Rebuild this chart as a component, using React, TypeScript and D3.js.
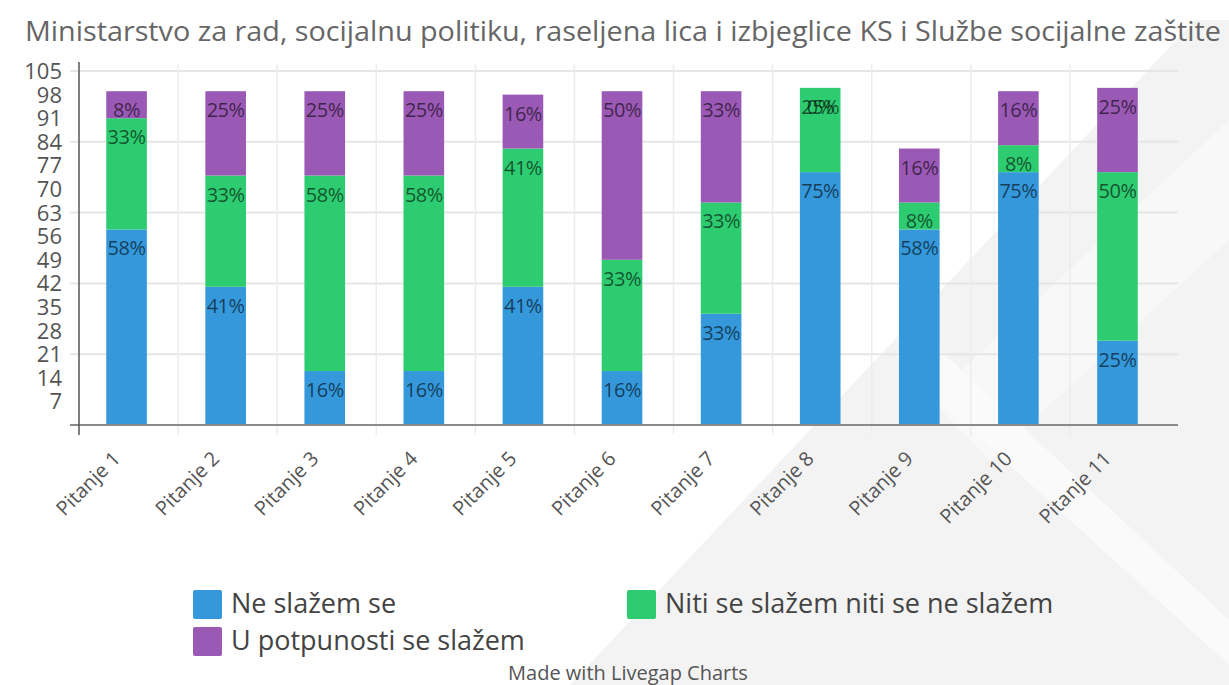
import React, { useEffect, useRef } from 'react';
import * as d3 from 'd3';

const title = 'Ministarstvo za rad, socijalnu politiku, raseljena lica i izbjeglice KS i Službe socijalne zaštite';
const categories = ['Pitanje 1', 'Pitanje 2', 'Pitanje 3', 'Pitanje 4', 'Pitanje 5', 'Pitanje 6', 'Pitanje 7', 'Pitanje 8', 'Pitanje 9', 'Pitanje 10', 'Pitanje 11'];
const neSlazem = [58, 41, 16, 16, 41, 16, 33, 75, 58, 75, 25];
const niti = [33, 33, 58, 58, 41, 33, 33, 25, 8, 8, 50];
const potpuno = [8, 25, 25, 25, 16, 50, 33, 0, 16, 16, 25];
const seriesNames = ['Ne slažem se', 'Niti se slažem niti se ne slažem', 'U potpunosti se slažem'];
const colors = ['#3498db', '#2ecc71', '#9b59b6'];
const yTicks = [7, 14, 21, 28, 35, 42, 49, 56, 63, 70, 77, 84, 91, 98, 105];
const gridTicks = [21, 42, 63, 84, 105];

const W = 1229;
const H = 685;
const FONT = '"Open Sans", "Noto Sans", sans-serif';

export default function App() {
  const svgRef = useRef<SVGSVGElement | null>(null);

  useEffect(() => {
    const svg = d3.select(svgRef.current);
    svg.selectAll('*').remove();

    // faint watermark in the background
    const bg = svg.append('g');
    bg.append('polygon')
      .attr('points', '1195,20 1229,20 1229,685 570,685')
      .attr('fill', '#f3f3f3');
    bg.append('polygon')
      .attr('points', '905,370 935,345 1229,620 1229,665')
      .attr('fill', '#fff').attr('opacity', 0.6);
    bg.append('polygon')
      .attr('points', '1229,120 1229,240 990,460 930,400')
      .attr('fill', '#fafafa').attr('opacity', 0.7);

    const table = categories.map((c, i) => ({ cat: c, a: neSlazem[i], b: niti[i], c2: potpuno[i] }));
    const keys = ['a', 'b', 'c2'];
    const stacked = d3.stack<any>().keys(keys)(table);

    const x = d3.scaleBand().domain(categories).range([79, 1169]);
    const y = d3.scaleLinear().domain([0, 105]).range([425, 71]);
    const bw = x.bandwidth();

    // title
    svg.append('text')
      .attr('x', 25).attr('y', 41)
      .attr('font-family', FONT).attr('font-size', 27)
      .attr('textLength', 1196).attr('lengthAdjust', 'spacingAndGlyphs')
      .attr('fill', '#666')
      .text(title);

    // horizontal grid
    svg.append('g').selectAll('line').data(gridTicks).enter().append('line')
      .attr('x1', 70).attr('x2', 1178)
      .attr('y1', d => y(d)).attr('y2', d => y(d))
      .attr('stroke', '#e6e6e6').attr('stroke-width', 2);

    // vertical grid at band boundaries
    svg.append('g').selectAll('line').data(categories.slice(1)).enter().append('line')
      .attr('x1', d => x(d)!).attr('x2', d => x(d)!)
      .attr('y1', 64).attr('y2', 435)
      .attr('stroke', '#ececec').attr('stroke-width', 1.5);

    // bars
    const layers = svg.append('g').selectAll('g').data(stacked).enter().append('g')
      .attr('fill', (d, i) => colors[i]);
    layers.selectAll('rect').data(d => d).enter().append('rect')
      .attr('x', d => x(d.data.cat)! + bw * 0.275)
      .attr('width', bw * 0.41)
      .attr('y', d => y(d[1]))
      .attr('height', d => y(d[0]) - y(d[1]));

    // value labels
    const lbl = svg.append('g').selectAll('g').data(stacked).enter().append('g');
    lbl.selectAll('text').data(d => d.map(v => ({ v, key: d.key }))).enter().append('text')
      .attr('x', d => x(d.v.data.cat)! + bw * 0.275 + bw * 0.205)
      .attr('y', d => y(d.v[1]) + 26)
      .attr('text-anchor', 'middle')
      .attr('font-family', FONT).attr('font-size', 20)
      .attr('letter-spacing', -0.5)
      .attr('fill', 'rgba(0,0,0,0.6)')
      .text(d => `${d.v.data[d.key]}%`);

    // axes lines
    svg.append('line').attr('x1', 70).attr('x2', 1178).attr('y1', 425).attr('y2', 425)
      .attr('stroke', '#8a8a8a').attr('stroke-width', 2);
    svg.append('line').attr('x1', 79).attr('x2', 79).attr('y1', 62).attr('y2', 435)
      .attr('stroke', '#555').attr('stroke-width', 1.5);

    // y tick labels
    svg.append('g').selectAll('text').data(yTicks).enter().append('text')
      .attr('x', 62).attr('y', d => y(d) + 8)
      .attr('text-anchor', 'end')
      .attr('font-family', FONT).attr('font-size', 22)
      .attr('fill', '#555')
      .text(d => d);

    // x labels
    svg.append('g').selectAll('text').data(categories).enter().append('text')
      .attr('transform', d => `translate(${x(d)! + bw / 2 - 7},460) rotate(-45)`)
      .attr('text-anchor', 'end')
      .attr('font-family', FONT).attr('font-size', 20)
      .attr('fill', '#555')
      .text(d => d);

    // legend
    const legendPos = [[193, 590], [627, 590], [193, 627]];
    const lg = svg.append('g').selectAll('g').data(seriesNames).enter().append('g')
      .attr('transform', (d, i) => `translate(${legendPos[i][0]},${legendPos[i][1]})`);
    lg.append('rect').attr('width', 29).attr('height', 29).attr('rx', 2)
      .attr('fill', (d, i) => colors[i]);
    lg.append('text').attr('x', 38).attr('y', 23)
      .attr('font-family', FONT).attr('font-size', 27)
      .attr('fill', '#444')
      .text(d => d);

    svg.append('text')
      .attr('x', 628).attr('y', 680)
      .attr('text-anchor', 'middle')
      .attr('font-family', FONT).attr('font-size', 20)
      .attr('fill', '#555')
      .text('Made with Livegap Charts');
  }, []);

  return (
    <svg ref={svgRef} width={W} height={H}
      style={{ position: 'absolute', left: 0, top: 0, background: '#fff' }} />
  );
}
